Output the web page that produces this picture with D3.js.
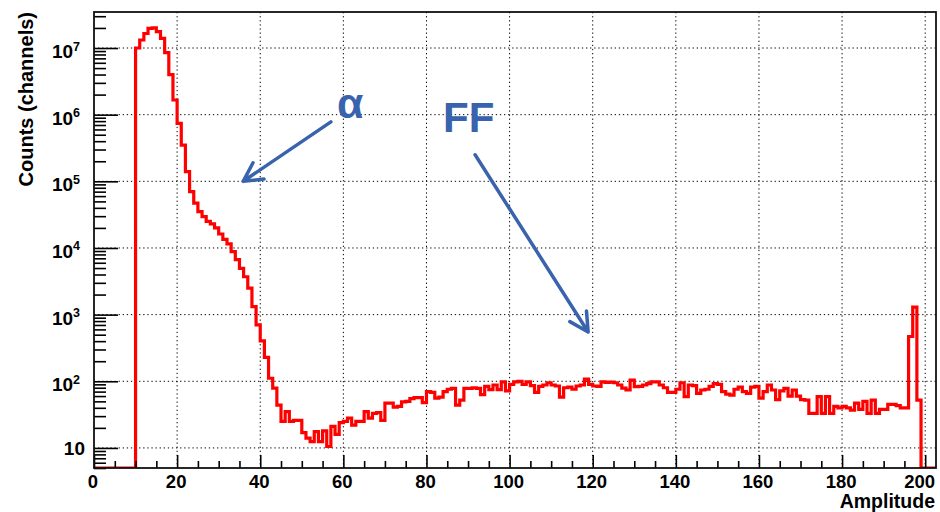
<!DOCTYPE html>
<html>
<head>
<meta charset="utf-8">
<script src="https://cdn.jsdelivr.net/npm/d3@7"></script>
<style>
  body { margin: 0; background: #fff; }
  svg { display: block; }
  text { font-family: "Liberation Sans", Arial, Helvetica, sans-serif; font-weight: bold; }
</style>
</head>
<body>
<svg id="chart" width="940" height="512"></svg>
<script>
// Amplitude spectrum: counts per 1-unit channel, starting at amplitude 0
const binStart = 0;
const binWidth = 1;
const counts = [
  0, 0, 0, 0, 0, 0, 0, 0, 0, 0,
  1.0e7, 1.32e7, 1.65e7, 1.97e7, 2.0e7, 1.76e7, 1.4e7, 8.5e6, 4.0e6, 1.66e6,
  7.4e5, 3.5e5, 1.4e5, 7.0e4, 4.7e4, 3.5e4, 2.95e4, 2.5e4, 2.3e4, 2.0e4,
  1.62e4, 1.35e4, 1.15e4, 8.8e3, 6.7e3, 4.95e3, 3.7e3, 2.5e3, 1.32e3, 700,
  405, 228, 111, 79, 44, 25, 35, 25, 26, 26,
  17, 14, 12.4, 17.6, 12.4, 18, 10.5, 21, 16, 24,
  25, 28, 22, 25, 25, 35, 28, 33, 34, 26,
  47, 47, 41, 42, 49, 50, 55, 57, 57, 48,
  70, 68, 56, 58, 70, 76, 78, 44, 52, 78,
  78, 80, 78, 63, 84, 75, 88, 75, 98, 72,
  90, 98, 100, 90, 98, 86, 68, 84, 88, 95,
  88, 85, 58, 80, 82, 76, 85, 88, 108, 90,
  85, 84, 98, 96, 97, 95, 88, 79, 74, 104,
  83, 84, 88, 92, 98, 98, 88, 80, 68, 68,
  76, 95, 59, 88, 86, 66, 74, 76, 84, 92,
  90, 70, 64, 62, 76, 82, 70, 66, 82, 84,
  56, 70, 88, 74, 53, 72, 78, 60, 74, 60,
  53, 52, 33, 33, 59, 33, 59, 33, 42, 40,
  42, 40, 37, 47, 38, 50, 33, 52, 33, 38,
  38, 45, 45, 43, 40, 40, 470, 1300, 52, 0,
  0, 0, 0
];

// Axis ticks and labels
const xMajorTicks = [0, 20, 40, 60, 80, 100, 120, 140, 160, 180, 200];
const xMinorStep = 5;
const yExponents = [1, 2, 3, 4, 5, 6, 7];
const yMinorMultipliers = [2, 3, 4, 5, 6, 7, 8, 9];
const xTitle = "Amplitude";
const yTitle = "Counts (channels)";

// Annotations (data coordinates: amplitude, counts)
const notes = [
  { label: "α", at: [58.5, 8.9e5], size: 43 },
  { label: "FF", at: [84, 5.5e5], size: 42 }
];
const arrows = [
  { from: [57, 7.8e5], to: [35.9, 1.0e5] },
  { from: [91.7, 2.5e5], to: [118.9, 550] }
];

const W = 940, H = 512;
const frame = { left: 94, right: 936, top: 12, bottom: 468 };
const xDomain = [0, 202.6];
const yDomain = [5, 3.47e7];
const lineColor = "#ff0000";
const noteColor = "#3a63ad";

const svg = d3.select("#chart");

const x = d3.scaleLinear().domain(xDomain).range([frame.left, frame.right]);
const y = d3.scaleLog().domain(yDomain).range([frame.bottom, frame.top]);
const yv = v => y(Math.max(v, yDomain[0]));

// Dotted grid at the major ticks
const grid = svg.append("g")
  .attr("stroke", "#000")
  .attr("stroke-width", 1)
  .attr("stroke-dasharray", "1.3,2.8");
grid.selectAll("line.gx")
  .data(xMajorTicks.filter(d => d > xDomain[0]))
  .join("line")
  .attr("x1", d => x(d)).attr("x2", d => x(d))
  .attr("y1", frame.top).attr("y2", frame.bottom);
grid.selectAll("line.gy")
  .data(yExponents.map(e => Math.pow(10, e)))
  .join("line")
  .attr("x1", frame.left).attr("x2", frame.right)
  .attr("y1", d => y(d)).attr("y2", d => y(d));

// Histogram drawn as a step outline
const clipId = "plot-clip";
svg.append("clipPath").attr("id", clipId)
  .append("rect")
  .attr("x", frame.left).attr("y", frame.top - 2)
  .attr("width", frame.right - frame.left)
  .attr("height", frame.bottom - frame.top + 2);

const stepPoints = counts.map((c, i) => [binStart + i * binWidth, c]);
stepPoints.push([binStart + counts.length * binWidth, counts[counts.length - 1]]);

svg.append("path")
  .attr("clip-path", `url(#${clipId})`)
  .attr("d", d3.line()
    .x(d => x(d[0]))
    .y(d => yv(d[1]))
    .curve(d3.curveStepAfter)(stepPoints))
  .attr("fill", "none")
  .attr("stroke", lineColor)
  .attr("stroke-width", 3.2)
  .attr("stroke-linejoin", "miter");

// X axis: ticks point into the plot
const xMinorTicks = d3.range(xDomain[0], xDomain[1], xMinorStep).filter(v => v % 20 !== 0);
const xAxisG = svg.append("g").attr("transform", `translate(0,${frame.bottom})`);
xAxisG.append("g")
  .call(d3.axisBottom(x).tickValues(xMinorTicks).tickSize(-7).tickFormat(() => ""))
  .call(g => g.select(".domain").remove());
xAxisG.append("g")
  .call(d3.axisBottom(x).tickValues(xMajorTicks).tickSize(-13).tickPadding(6.5).tickFormat(d3.format("d")))
  .call(g => g.select(".domain").remove())
  .call(g => g.selectAll("text")
    .attr("font-size", 18.5).attr("fill", "#000")
    .attr("font-family", "'Liberation Sans', Arial, sans-serif").attr("font-weight", "bold")
    .attr("dx", d => d === xMajorTicks[xMajorTicks.length - 1] ? -6 : -1.5));
xAxisG.selectAll("line").attr("stroke", "#000").attr("stroke-width", 1.6);

// Y axis (log): minor ticks at 2..9 × 10^n, majors at powers of ten
const yMinorTicks = [];
for (let e = 0; e <= 7; e++) {
  yMinorMultipliers.forEach(m => {
    const v = m * Math.pow(10, e);
    if (v >= yDomain[0] && v <= yDomain[1]) yMinorTicks.push(v);
  });
}
const yAxisG = svg.append("g").attr("transform", `translate(${frame.left},0)`);
yAxisG.append("g")
  .call(d3.axisLeft(y).tickValues(yMinorTicks).tickSize(-12).tickFormat(() => ""))
  .call(g => g.select(".domain").remove());
const yMajor = yAxisG.append("g")
  .call(d3.axisLeft(y).tickValues(yExponents.map(e => Math.pow(10, e))).tickSize(-24).tickPadding(9).tickFormat(() => ""))
  .call(g => g.select(".domain").remove());
yAxisG.selectAll("line").attr("stroke", "#000").attr("stroke-width", 1.6);

yMajor.selectAll(".tick text").each(function (d) {
  const e = Math.round(Math.log10(d));
  const t = d3.select(this)
    .attr("font-size", 19).attr("fill", "#000")
    .attr("font-family", "'Liberation Sans', Arial, sans-serif").attr("font-weight", "bold");
  if (e === 1) {
    t.text("10");
  } else {
    t.attr("dy", "0.5em").attr("dx", -5);
    t.text("");
    t.append("tspan").text("10");
    t.append("tspan").attr("font-size", 12.5).attr("dy", -7.5).text(String(e));
  }
});

// Frame
svg.append("rect")
  .attr("x", frame.left).attr("y", frame.top)
  .attr("width", frame.right - frame.left)
  .attr("height", frame.bottom - frame.top)
  .attr("fill", "none")
  .attr("stroke", "#111")
  .attr("stroke-width", 1.8);

// Axis titles
svg.append("text")
  .attr("x", frame.right - 1).attr("y", 507.5)
  .attr("text-anchor", "end")
  .attr("font-size", 19.5)
  .attr("fill", "#000")
  .text(xTitle);

svg.append("text")
  .attr("transform", `translate(33,${frame.top}) rotate(-90)`)
  .attr("text-anchor", "end")
  .attr("font-size", 20)
  .attr("fill", "#000")
  .text(yTitle);

// Annotation arrows with open heads
const headLen = 21, headAngle = 28 * Math.PI / 180;
arrows.forEach(a => {
  const x0 = x(a.from[0]), y0 = y(a.from[1]);
  const x1 = x(a.to[0]), y1 = y(a.to[1]);
  const ang = Math.atan2(y0 - y1, x0 - x1);
  const w1 = [x1 + headLen * Math.cos(ang + headAngle), y1 + headLen * Math.sin(ang + headAngle)];
  const w2 = [x1 + headLen * Math.cos(ang - headAngle), y1 + headLen * Math.sin(ang - headAngle)];
  const p = d3.path();
  p.moveTo(x0, y0); p.lineTo(x1, y1);
  p.moveTo(w1[0], w1[1]); p.lineTo(x1, y1); p.lineTo(w2[0], w2[1]);
  svg.append("path")
    .attr("d", p.toString())
    .attr("fill", "none")
    .attr("stroke", noteColor)
    .attr("stroke-width", 3.5)
    .attr("stroke-linecap", "round")
    .attr("stroke-linejoin", "round");
});

svg.selectAll("text.note")
  .data(notes)
  .join("text")
  .attr("class", "note")
  .attr("x", d => x(d.at[0]))
  .attr("y", d => y(d.at[1]))
  .attr("font-family", "'Open Sans', 'Noto Sans', sans-serif")
  .attr("font-weight", "bold")
  .attr("font-size", d => d.size)
  .attr("fill", noteColor)
  .text(d => d.label);
</script>
</body>
</html>
